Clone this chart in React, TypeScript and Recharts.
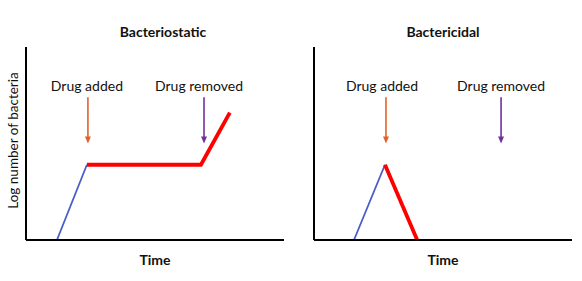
import { LineChart, Line, XAxis, YAxis, ReferenceLine } from 'recharts';

// time (0-100) vs log number of bacteria (0-100)
const staticGrowth = [{ t: 12, n: 0 }, { t: 23.6, n: 39 }];
const staticDrug = [{ t: 23.6, n: 39 }, { t: 67.8, n: 39 }, { t: 79, n: 66 }];
const cidalGrowth = [{ t: 15.5, n: 0 }, { t: 27.5, n: 39 }];
const cidalDrug = [{ t: 27.5, n: 39 }, { t: 40, n: 0 }];

const arrowLabels = ['Drug added', 'Drug removed'];
const staticArrowTimes = [24, 69];
const cidalArrowTimes = [27.9, 72.5];
const arrowTop = 74;
const arrowBottom = 50;

const FONT = 'Lato, "Open Sans", sans-serif';
const arrowColors = ['#E0622A', '#7030A0'];

const arrowShape = (color: string) => (p: any) => {
  const { x1, y1, x2, y2 } = p;
  return (
    <g>
      <line x1={x1} y1={y1} x2={x2} y2={y2 - 5} stroke={color} strokeWidth={1.6} />
      <polygon points={`${x2 - 3},${y2 - 7} ${x2 + 3},${y2 - 7} ${x2},${y2}`} fill={color} />
    </g>
  );
};

function Panel({ title, titleDx, growth, drug, arrows, labelDx, left, yLabel }: {
  title: string; titleDx: number; growth: any[]; drug: any[]; arrows: number[]; labelDx: number[]; left: number; yLabel?: string;
}) {
  return (
    <div style={{ position: 'absolute', left, top: 0, width: 291, height: 281 }}>
      <div style={{
        position: 'absolute', top: 23, left: 26 + titleDx, width: 258, textAlign: 'center',
        fontFamily: FONT, fontWeight: 700, fontSize: 14, color: '#111',
      }}>{title}</div>
      <LineChart width={291} height={281} margin={{ top: 47, right: 7, bottom: 0, left: 0 }}>
        <XAxis type="number" dataKey="t" domain={[0, 100]} height={41} tick={false} tickLine={false}
          axisLine={{ stroke: '#000', strokeWidth: 2 }}
          label={{ value: 'Time', position: 'center', fill: '#111', fontSize: 14, fontFamily: FONT, fontWeight: 700 }} />
        <YAxis type="number" dataKey="n" domain={[0, 100]} width={26} tick={false} tickLine={false}
          axisLine={{ stroke: '#000', strokeWidth: 2 }}
          label={yLabel ? { value: yLabel, angle: -90, position: 'center', dy: -3, fill: '#111', fontSize: 13.5, fontFamily: FONT } : undefined} />
        {arrows.map((t, i) => (
          <ReferenceLine key={i} segment={[{ x: t, y: arrowTop }, { x: t, y: arrowBottom }]}
            stroke={arrowColors[i]} shape={arrowShape(arrowColors[i])}
            label={{ value: arrowLabels[i], position: 'top', offset: 6, dx: labelDx[i], fill: '#111', fontSize: 14, fontFamily: FONT }} />
        ))}
        <Line data={growth} dataKey="n" stroke="#4A5CC8" strokeWidth={1.8} dot={false} isAnimationActive={false} />
        <Line data={drug} dataKey="n" stroke="#FF0000" strokeWidth={3.8} dot={false} isAnimationActive={false} />
      </LineChart>
    </div>
  );
}

export default function App() {
  return (
    <div style={{ position: 'absolute', left: 0, top: 0, width: 582, height: 281, background: '#fff' }}>
      <Panel title="Bacteriostatic" titleDx={8} growth={staticGrowth} drug={staticDrug} arrows={staticArrowTimes}
        labelDx={[-1, -5]} left={0} yLabel="Log number of bacteria" />
      <Panel title="Bactericidal" titleDx={0} growth={cidalGrowth} drug={cidalDrug} arrows={cidalArrowTimes}
        labelDx={[-4, 0]} left={288} />
    </div>
  );
}
